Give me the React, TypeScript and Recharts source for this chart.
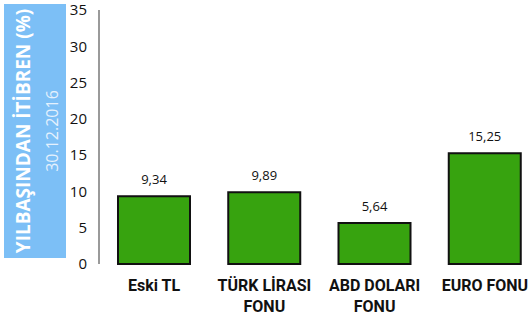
import React from "react";
import { Bar, BarChart, LabelList, XAxis, YAxis } from "recharts";

const categories = ["Eski TL", "TÜRK LİRASI\nFONU", "ABD DOLARI\nFONU", "EURO FONU"];
const returns = [9.34, 9.89, 5.64, 15.25];
const yTicks = [0, 5, 10, 15, 20, 25, 30, 35];
const axisTitle = "YILBAŞINDAN İTİBREN  (%)";
const dateLabel = "30.12.2016";

const data = categories.map((name, i) => ({ name, value: returns[i] }));

const CategoryTick = (props: any) => {
  const { x, y, payload } = props;
  const lines = String(payload.value).split("\n");
  return (
    <g transform={`translate(${x},${y})`}>
      {lines.map((line, i) => (
        <text
          key={i}
          x={0}
          y={19 + i * 21}
          textAnchor="middle"
          fontFamily="Roboto, sans-serif"
          fontWeight={700}
          fontSize={16}
          fill="#111"
        >
          {line}
        </text>
      ))}
    </g>
  );
};

export default function App() {
  return (
    <div style={{ position: "absolute", left: 0, top: 0, width: 530, height: 316, overflow: "hidden", background: "#fff" }}>
      <svg width={70} height={262} style={{ position: "absolute", left: 0, top: 0 }}>
        <rect x={4} y={4} width={62} height={254} fill="#7cbff6" />
        <text
          transform="translate(23,131) rotate(-90)"
          textAnchor="middle"
          dominantBaseline="central"
          fontFamily="'Open Sans', sans-serif"
          fontWeight={700}
          fontSize={19}
          fill="#ffffff"
        >
          {axisTitle}
        </text>
        <text
          transform="translate(52,131) rotate(-90)"
          textAnchor="middle"
          dominantBaseline="central"
          fontFamily="'Open Sans', sans-serif"
          fontSize={16}
          fill="#e4f1fd"
        >
          {dateLabel}
        </text>
      </svg>
      <BarChart
        width={540}
        height={316}
        data={data}
        margin={{ top: 10, right: 0, bottom: 0, left: 0 }}
        barCategoryGap={19}
      >
        <YAxis
          width={99}
          domain={[0, 35]}
          ticks={yTicks}
          interval={0}
          tickLine={false}
          tickSize={0}
          tickMargin={12}
          axisLine={{ stroke: "#9a9a9a", strokeWidth: 2 }}
          tick={{ fill: "#111", fontSize: 15, fontFamily: "'Open Sans', sans-serif" }}
        />
        <XAxis
          dataKey="name"
          height={52}
          axisLine={false}
          tickLine={false}
          interval={0}
          tick={<CategoryTick />}
        />
        <Bar dataKey="value" fill="#37a30f" stroke="#111" strokeWidth={2} isAnimationActive={false}>
          <LabelList
            dataKey="value"
            position="top"
            offset={12}
            formatter={(v: any) => Number(v).toFixed(2).replace(".", ",")}
            style={{ fill: "#111", fontSize: 13, fontFamily: "'Open Sans', sans-serif" }}
          />
        </Bar>
      </BarChart>
    </div>
  );
}
